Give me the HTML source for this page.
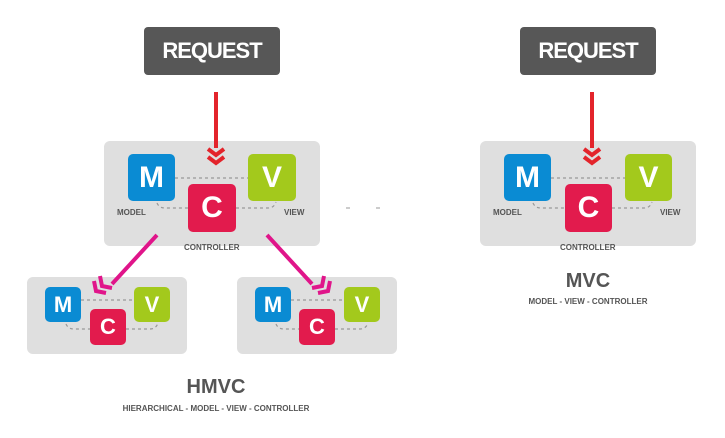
<!DOCTYPE html><html><head><style>
body{margin:0;width:725px;height:438px;background:#fff;position:relative;overflow:hidden;font-family:"Liberation Sans",sans-serif}
.a{position:absolute}
.req{background:#575757;color:#fff;font-weight:bold;font-size:22px;border-radius:4px;text-align:center;line-height:48px;letter-spacing:-1px}
.box{background:#dfdfdf;border-radius:6px}
.s{color:#fff;font-weight:bold;text-align:center;border-radius:5px}
.m{background:#0a8bd3}.c{background:#e21b4d}.v{background:#a3c91c}
.lb{font-size:8px;color:#555;font-weight:bold}
.t{color:#555;font-weight:bold;text-align:center}
</style></head><body>
<div class="a req" style="left:144px;top:27px;width:136px;height:48px">REQUEST</div>
<div class="a req" style="left:520px;top:27px;width:136px;height:48px">REQUEST</div>
<div class="a box" style="left:104px;top:141px;width:216px;height:105px"></div>
<div class="a box" style="left:480px;top:141px;width:216px;height:105px"></div>
<div class="a box" style="left:27px;top:277px;width:160px;height:77px"></div>
<div class="a box" style="left:237px;top:277px;width:160px;height:77px"></div>
<svg class="a" style="left:0;top:0" width="725" height="438">
<g stroke="#999" stroke-width="1.2" stroke-dasharray="3,3" fill="none">
<path d="M175 178H248M157 203q2 5 8 5H188M236 208H268q6 0 8-6"/>
<path d="M551 178H625M533 203q2 5 8 5H565M612 208H644q6 0 8-6"/>
<path d="M81 300H134M66 324q2 5 8 5H90M126 329H150q6 0 8-6"/>
<path d="M291 300H344M276 324q2 5 8 5H299M335 329H360q6 0 8-6"/>
</g>
<g stroke="#e3242b" stroke-width="4" fill="none">
<path d="M216 92V148M208 149l8 6 8-6M208 157l8 6 8-6"/>
<path d="M592 92V148M584 149l8 6 8-6M584 157l8 6 8-6"/>
</g>
<g stroke="#e0158a" stroke-width="4" fill="none">
<path d="M157 235L112 284M100 276l2 10 10 2M94 281l2 10 10 2"/>
<path d="M267 235L312 284M324 276l-2 10-10 2M330 281l-2 10-10 2"/>
</g>
<g stroke="#999" stroke-width="1"><path d="M346 208h4M376 208h4"/></g>
</svg>
<div class="a s m" style="left:128px;top:154px;width:47px;height:47px;line-height:47px;font-size:30px">M</div>
<div class="a s v" style="left:248px;top:154px;width:48px;height:47px;line-height:47px;font-size:30px">V</div>
<div class="a s c" style="left:188px;top:184px;width:48px;height:48px;line-height:48px;font-size:30px">C</div>
<div class="a lb" style="left:117px;top:208px">MODEL</div>
<div class="a lb" style="left:284px;top:208px">VIEW</div>
<div class="a lb" style="left:184px;top:243px">CONTROLLER</div>
<div class="a s m" style="left:504px;top:154px;width:47px;height:47px;line-height:47px;font-size:30px">M</div>
<div class="a s v" style="left:625px;top:154px;width:47px;height:47px;line-height:47px;font-size:30px">V</div>
<div class="a s c" style="left:565px;top:184px;width:47px;height:48px;line-height:48px;font-size:30px">C</div>
<div class="a lb" style="left:493px;top:208px">MODEL</div>
<div class="a lb" style="left:660px;top:208px">VIEW</div>
<div class="a lb" style="left:560px;top:243px">CONTROLLER</div>
<div class="a s m" style="left:45px;top:287px;width:36px;height:35px;line-height:35px;font-size:22px">M</div>
<div class="a s c" style="left:90px;top:309px;width:36px;height:36px;line-height:36px;font-size:22px">C</div>
<div class="a s v" style="left:134px;top:287px;width:36px;height:35px;line-height:35px;font-size:22px">V</div>
<div class="a s m" style="left:255px;top:287px;width:36px;height:35px;line-height:35px;font-size:22px">M</div>
<div class="a s c" style="left:299px;top:309px;width:36px;height:36px;line-height:36px;font-size:22px">C</div>
<div class="a s v" style="left:344px;top:287px;width:36px;height:35px;line-height:35px;font-size:22px">V</div>
<div class="a t" style="left:488px;top:270px;width:200px;font-size:20px">MVC</div>
<div class="a t" style="left:488px;top:297px;width:200px;font-size:8px">MODEL - VIEW - CONTROLLER</div>
<div class="a t" style="left:116px;top:376px;width:200px;font-size:20px">HMVC</div>
<div class="a t" style="left:66px;top:404px;width:300px;font-size:8px">HIERARCHICAL - MODEL - VIEW - CONTROLLER</div>
</body></html>
